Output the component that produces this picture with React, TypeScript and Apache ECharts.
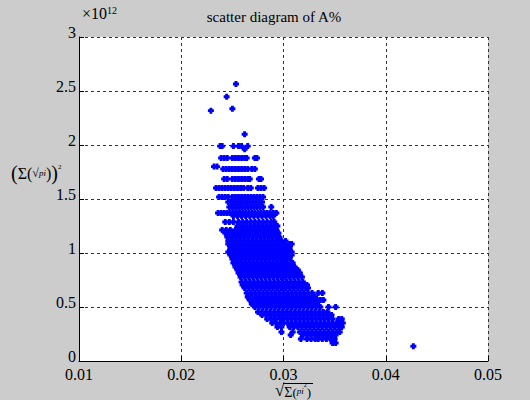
import React, { useEffect, useRef } from "react";
import * as echarts from "echarts";

// Axis ticks
const xTicks = [0.01, 0.02, 0.03, 0.04, 0.05];
const yTicks = [0, 0.5, 1, 1.5, 2, 2.5, 3];

// Isolated points: [x, y (×10^12)]
const outliers: [number, number][] = [
  [0.02535, 2.565],
  [0.02444, 2.447],
  [0.0229, 2.318],
  [0.025, 2.336],
  [0.0262, 2.099],
  [0.0427, 0.136],
];

// Cloud rows: [y (×10^12), x values in units of 1e-4]
const rows: [number, number[]][] = [
  [1.99, [238, 240, 251, 256, 259, 265]],
  [1.96, [262]],
  [1.88, [239, 242, 245, 250, 253, 256, 259, 262, 264, 272, 274]],
  [1.8, [232, 235]],
  [1.778, [241, 244, 247, 250, 253, 256, 259, 262, 265, 269, 272]],
  [1.685, [242, 245, 250, 253, 256, 259, 262, 265, 267, 276, 278]],
  [1.602, [234, 237, 240, 243, 246, 249, 252, 255, 258, 261, 265, 268, 275, 278, 281]],
  [1.519, [237, 240, 243, 246, 250, 253, 256, 259, 262, 265, 268, 271, 274, 277, 280]],
  [1.472, [246, 249, 252, 255, 258, 261, 264, 267, 270, 273, 276, 279]],
  [1.426, [247, 250, 253, 256, 259, 262, 265, 268, 271, 274, 277, 280, 288]],
  [1.37, [236, 239, 242, 245, 248, 251, 254, 257, 260, 263, 266, 269, 272, 275, 278, 281, 284, 287, 290, 293]],
  [1.343, [251, 255, 259, 263, 267, 271, 275, 279, 283, 287, 290]],
  [1.287, [243, 247, 251, 256, 260, 264, 268, 272, 276, 280, 284, 288, 291]],
  [1.25, [255, 259, 263, 267, 271, 275, 279, 283, 287, 291, 294]],
  [1.213, [240, 244, 248, 253, 257, 261, 265, 269, 273, 277, 281, 285, 289, 293]],
  [1.185, [243, 247, 251, 255, 259, 263, 267, 271, 275, 279, 283, 287, 291, 295]],
  [1.148, [245, 249, 253, 257, 261, 265, 269, 273, 277, 281, 285, 289, 293, 296]],
  [1.111, [246, 250, 254, 258, 262, 266, 270, 274, 278, 282, 286, 290, 294, 298, 302]],
  [1.083, [246, 250, 254, 258, 262, 266, 270, 274, 278, 282, 286, 290, 294, 298, 302, 306, 308]],
  [1.046, [248, 252, 256, 260, 264, 268, 272, 276, 280, 284, 288, 292, 296, 300, 304, 306]],
  [1.009, [246, 250, 254, 258, 262, 266, 270, 274, 278, 282, 286, 290, 294, 298, 302, 306, 308]],
  [0.981, [248, 252, 256, 260, 264, 268, 272, 276, 280, 284, 288, 292, 296, 300, 304, 308]],
  [0.944, [250, 254, 258, 262, 266, 270, 274, 278, 282, 286, 290, 294, 298, 302, 306]],
  [0.907, [251, 255, 259, 263, 267, 271, 275, 279, 283, 287, 291, 295, 299, 303, 307, 309]],
  [0.87, [253, 257, 261, 265, 269, 273, 277, 281, 285, 289, 293, 297, 301, 305, 309, 311]],
  [0.843, [255, 259, 263, 267, 271, 275, 279, 283, 287, 291, 295, 299, 303, 307, 311, 314]],
  [0.815, [256, 260, 264, 268, 272, 276, 280, 284, 288, 292, 296, 300, 304, 308, 312, 316]],
  [0.778, [258, 262, 266, 270, 274, 278, 282, 286, 290, 294, 298, 302, 306, 310, 314, 318]],
  [0.731, [259, 263, 267, 271, 275, 279, 283, 287, 291, 295, 299, 303, 307, 311, 315, 319]],
  [0.704, [260, 264, 268, 272, 276, 280, 284, 288, 292, 296, 300, 304, 308, 312, 316, 320, 323]],
  [0.676, [262, 266, 270, 274, 278, 282, 286, 290, 294, 298, 302, 306, 310, 314, 318, 322, 324]],
  [0.63, [264, 268, 272, 276, 280, 284, 288, 292, 296, 300, 304, 308, 312, 316, 320, 324, 328, 334, 338]],
  [0.593, [265, 269, 273, 277, 281, 285, 289, 293, 297, 301, 305, 309, 313, 317, 321, 325, 329, 331]],
  [0.565, [267, 271, 275, 279, 283, 287, 291, 295, 299, 303, 307, 311, 315, 319, 323, 327, 331, 333, 336, 339]],
  [0.528, [269, 273, 277, 281, 285, 289, 293, 297, 301, 305, 309, 313, 317, 321, 325, 329, 333]],
  [0.5, [272, 276, 280, 284, 288, 292, 296, 300, 304, 308, 312, 316, 320, 324, 328, 332, 336, 344, 351]],
  [0.454, [275, 279, 283, 287, 291, 295, 299, 303, 307, 311, 315, 319, 323, 327, 331, 335, 339, 343]],
  [0.426, [279, 283, 287, 291, 295, 299, 303, 307, 311, 315, 319, 323, 327, 331, 335, 339, 343, 347]],
  [0.389, [284, 288, 292, 297, 300, 304, 308, 312, 316, 320, 324, 328, 332, 336, 340, 344, 348, 354, 357]],
  [0.352, [289, 293, 297, 300, 304, 308, 312, 316, 320, 324, 328, 332, 336, 340, 344, 348, 352, 355, 358]],
  [0.315, [294, 298, 306, 310, 314, 318, 322, 326, 330, 334, 338, 342, 346, 350, 354, 357]],
  [0.269, [298, 309, 316, 320, 324, 328, 332, 336, 340, 344, 348, 352, 355]],
  [0.241, [307, 319, 323, 327, 331, 335, 339, 343, 347, 351]],
  [0.204, [317, 323, 327, 331, 334, 338, 342, 346, 350]],
  [0.167, [348, 351]],
];

const SERIF = "'Liberation Serif', 'DejaVu Serif', serif";
const PLUS = "path://M1.3,0H3.7V1.3H5V3.7H3.7V5H1.3V3.7H0V1.3H1.3Z";

export default function App() {
  const ref = useRef<HTMLDivElement>(null);

  useEffect(() => {
    if (!ref.current) return;
    const chart = echarts.init(ref.current, undefined, { renderer: "svg" });

    const points: [number, number][] = [
      ...rows.flatMap(([y, xs]) => xs.map((u) => [u / 10000, y] as [number, number])),
      ...outliers,
    ];

    const gridLine = { show: true, lineStyle: { color: "#333", width: 1, type: [3, 3] as any } };

    chart.setOption({
      animation: false,
      backgroundColor: "#cccccc",
      grid: { left: 79, top: 37, width: 409, height: 324, show: true, backgroundColor: "#ffffff", borderWidth: 0 },
      xAxis: {
        type: "value",
        min: xTicks[0],
        max: xTicks[xTicks.length - 1],
        interval: 0.01,
        axisLine: { show: true, onZero: false, lineStyle: { color: "#000", width: 1 } },
        axisTick: { show: true, inside: true, length: 5, lineStyle: { color: "#000" } },
        axisLabel: {
          color: "#000",
          fontFamily: SERIF,
          fontSize: 16,
          lineHeight: 14,
          margin: 6,
          formatter: (v: number) => v.toFixed(2),
        },
        splitLine: gridLine,
      },
      yAxis: {
        type: "value",
        min: yTicks[0],
        max: yTicks[yTicks.length - 1],
        interval: 0.5,
        axisLine: { show: true, onZero: false, lineStyle: { color: "#000", width: 1 } },
        axisTick: { show: true, inside: true, length: 5, lineStyle: { color: "#000" } },
        axisLabel: { color: "#000", fontFamily: SERIF, fontSize: 16, lineHeight: 10, margin: 3, verticalAlign: "bottom" },
        splitLine: gridLine,
      },
      series: [
        {
          type: "scatter",
          data: points,
          symbol: PLUS,
          symbolSize: 6,
          itemStyle: { color: "#0000ff", opacity: 1 },
          silent: true,
        },
      ],
      graphic: [
        {
          type: "text",
          x: 274,
          y: 17,
          style: { text: "scatter diagram of A%", font: `15px ${SERIF}`, fill: "#000", align: "center", verticalAlign: "middle" },
        },
        {
          type: "text",
          x: 82,
          y: 5,
          style: {
            text: "{a|×10}{b|12}",
            fill: "#000",
            align: "left",
            verticalAlign: "top",
            rich: {
              a: { font: `16px ${SERIF}`, fill: "#000", verticalAlign: "bottom" },
              b: { font: `10px ${SERIF}`, fill: "#000", verticalAlign: "top" },
            },
          },
        },
        // y axis label: (Σ(√pi))^2
        {
          type: "text",
          x: 11,
          y: 173,
          style: {
            text: "{p|(}{s|Σ}{q|(}{r|√}{i|pi}{q|)}{p|)}{t|2}",
            fill: "#000",
            align: "left",
            verticalAlign: "middle",
            rich: {
              p: { font: `20px ${SERIF}`, fill: "#000", verticalAlign: "middle" },
              s: { font: `16px ${SERIF}`, fill: "#000", verticalAlign: "middle" },
              q: { font: `16px ${SERIF}`, fill: "#000", verticalAlign: "middle" },
              r: { font: `12px ${SERIF}`, fill: "#000", verticalAlign: "middle" },
              i: { font: `italic 9px ${SERIF}`, fill: "#000", verticalAlign: "middle" },
              t: { font: `7px ${SERIF}`, fill: "#000", verticalAlign: "top" },
            },
          },
        },
        // x axis label: √(Σ(pi^2))
        {
          type: "line",
          shape: { x1: 283, y1: 383.5, x2: 313, y2: 383.5 },
          style: { stroke: "#000", lineWidth: 1 },
        },
        {
          type: "text",
          x: 275,
          y: 382,
          style: {
            text: "{r|√}{s|Σ}{q|(}{i|pi}{t|2}{q|)}",
            fill: "#000",
            align: "left",
            verticalAlign: "top",
            rich: {
              r: { font: `17px ${SERIF}`, fill: "#000", verticalAlign: "bottom", lineHeight: 17 },
              s: { font: `14px ${SERIF}`, fill: "#000", verticalAlign: "bottom" },
              q: { font: `13px ${SERIF}`, fill: "#000", verticalAlign: "bottom" },
              i: { font: `italic 9px ${SERIF}`, fill: "#000", verticalAlign: "middle" },
              t: { font: `6px ${SERIF}`, fill: "#000", verticalAlign: "top" },
            },
          },
        },
      ],
    });

    return () => chart.dispose();
  }, []);

  return <div ref={ref} style={{ position: "absolute", left: 0, top: 0, width: 530, height: 400 }} />;
}
